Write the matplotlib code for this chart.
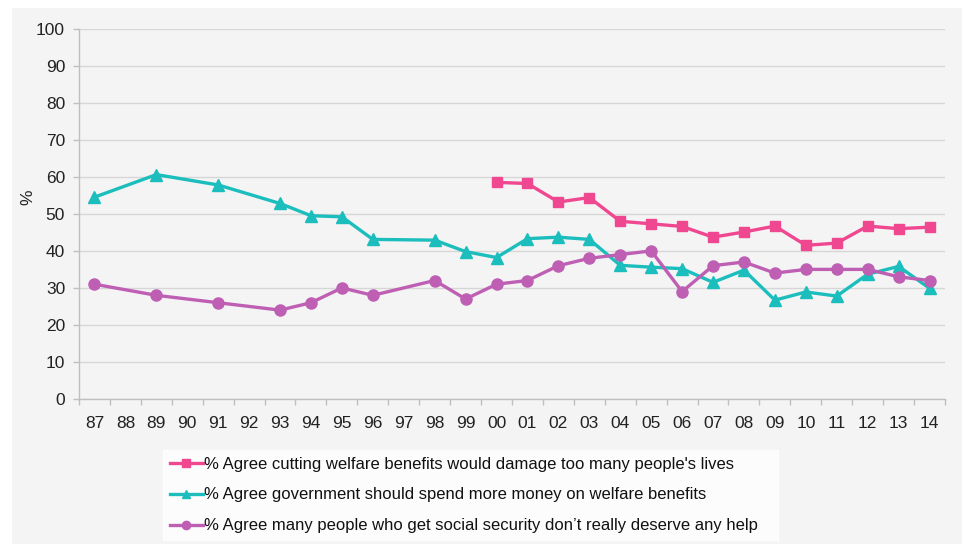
import matplotlib.pyplot as plt
import matplotlib.patches as mpatches
import numpy as np

# Survey years shown on the axis (two-digit labels)
years = ['87', '88', '89', '90', '91', '92', '93', '94', '95', '96', '97', '98', '99',
         '00', '01', '02', '03', '04', '05', '06', '07', '08', '09', '10', '11', '12', '13', '14']

# None = question not asked that year
damage_lives = [None] * 13 + [58.5, 58.2, 53.2, 54.4, 48.0, 47.3, 46.6, 43.7, 45.1,
                              46.7, 41.5, 42.1, 46.7, 46.0, 46.4]
spend_more = [54.5, None, 60.6, None, 57.8, None, 52.8, 49.5, 49.2, 43.1, None, 42.9, 39.8,
              38.2, 43.3, 43.7, 43.1, 36.1, 35.6, 35.2, 31.5, 34.8, 26.7, 28.9, 27.8,
              33.7, 35.8, 29.9]
not_deserve = [31, None, 28, None, 26, None, 24, 26, 30, 28, None, 32, 27,
               31, 32, 36, 38, 39, 40, 29, 36, 37, 34, 35, 35, 35, 33, 32]

labels = ["% Agree cutting welfare benefits would damage too many people's lives",
          "% Agree government should spend more money on welfare benefits",
          "% Agree many people who get social security don\u2019t really deserve any help"]
colors = ['#EF4790', '#1CBDBD', '#BE5FB4']
markers = ['s', '^', 'o']

plt.rcParams['font.family'] = ['Liberation Sans', 'DejaVu Sans']

fig = plt.figure(figsize=(9.68, 5.44), dpi=100)
fig.patch.set_facecolor('white')
# grey backdrop panel
fig.patches.append(mpatches.Rectangle((12 / 968, 0), 950 / 968, 1 - 8 / 544,
                                      transform=fig.transFigure, facecolor='#F4F4F4',
                                      edgecolor='none', zorder=-10))

ax = fig.add_axes([79 / 968, 1 - 399 / 544, 866 / 968, (399 - 28.7) / 544])
ax.set_facecolor('#F4F4F4')

handles = []
for series, col, mk, lab in zip([damage_lives, spend_more, not_deserve], colors, markers, labels):
    xs = [i for i, v in enumerate(series) if v is not None]
    ys = [v for v in series if v is not None]
    h, = ax.plot(xs, ys, color=col, marker=mk, markersize=8 if mk != 's' else 7.5,
                 linewidth=2.4, label=lab, zorder=3)
    handles.append(h)

ax.set_xlim(-0.5, len(years) - 0.5)
ax.set_ylim(0, 100)
ax.set_yticks(np.arange(0, 101, 10))
ax.set_xticks(range(len(years)))
ax.set_xticklabels(years)
ax.set_xticks(np.arange(-0.5, len(years), 1), minor=True)
ax.tick_params(axis='x', which='major', length=0, pad=12, labelsize=12.5, colors='#222222')
ax.tick_params(axis='x', which='minor', length=4, color='#BFBFBF', width=1)
ax.tick_params(axis='y', length=4, color='#BFBFBF', width=1, labelsize=12.5,
               labelcolor='#222222', pad=6)

ax.grid(axis='y', color='#D6D6D6', linewidth=1)
ax.set_axisbelow(True)
for side in ['top', 'right']:
    ax.spines[side].set_visible(False)
for side in ['left', 'bottom']:
    ax.spines[side].set_color('#BFBFBF')
    ax.spines[side].set_linewidth(1)

fig.text(28 / 968, 1 - 197 / 544, '%', rotation=90, fontsize=12.5, color='#222222',
         ha='center', va='center')

leg = fig.legend(handles=handles, loc='lower left',
                 bbox_to_anchor=(163 / 968, 4 / 544, 615 / 968, 88 / 544),
                 mode='expand', frameon=True, fancybox=False, fontsize=12,
                 handlelength=2.0, handletextpad=0.05, labelspacing=0.95,
                 borderaxespad=0, borderpad=0.4, markerscale=0.75)
leg.get_frame().set_facecolor('white')
leg.get_frame().set_edgecolor('white')
for t in leg.get_texts():
    t.set_color('#111111')

fig.savefig('out.png', dpi=100, facecolor=fig.get_facecolor())
